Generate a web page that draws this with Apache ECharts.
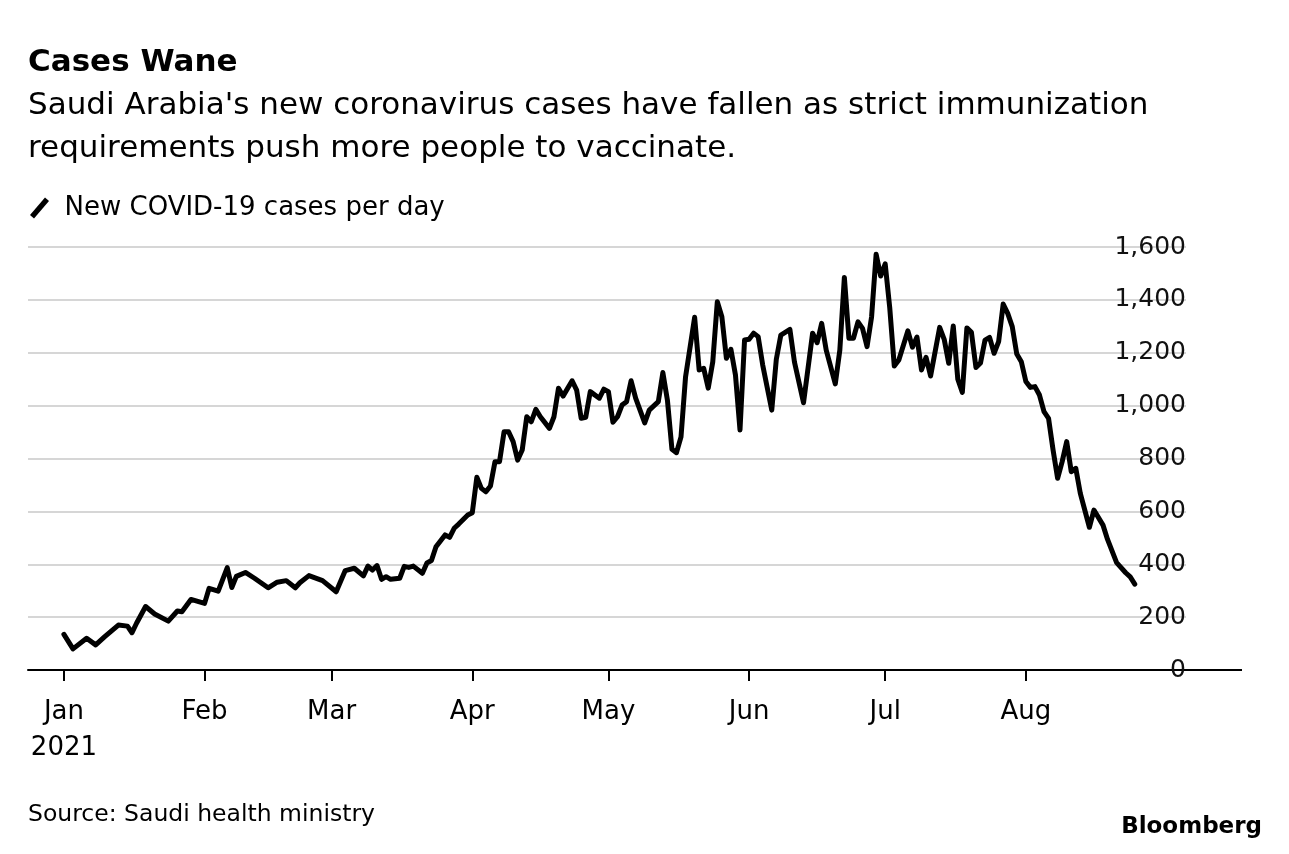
<!DOCTYPE html>
<html>
<head>
<meta charset="utf-8">
<script src="https://cdn.jsdelivr.net/npm/echarts@6/dist/echarts.min.js"></script>
<style>
html,body{margin:0;padding:0;background:#fff;}
#chart{width:1289px;height:854px;}
</style>
</head>
<body>
<div id="chart"></div>
<script>
// ---- data ----
const seriesName = 'New COVID-19 cases per day';
const dates = [
'2021-01-01','2021-01-03','2021-01-06','2021-01-08','2021-01-10','2021-01-13','2021-01-15','2021-01-16','2021-01-17','2021-01-19',
'2021-01-21','2021-01-24','2021-01-26','2021-01-27','2021-01-29','2021-02-01','2021-02-02','2021-02-04','2021-02-06','2021-02-07',
'2021-02-08','2021-02-10','2021-02-12','2021-02-15','2021-02-17','2021-02-19','2021-02-21','2021-02-22','2021-02-24','2021-02-27',
'2021-03-02','2021-03-04','2021-03-06','2021-03-08','2021-03-09','2021-03-10','2021-03-11','2021-03-12','2021-03-13','2021-03-14',
'2021-03-16','2021-03-17','2021-03-18','2021-03-19','2021-03-21','2021-03-22','2021-03-23','2021-03-24','2021-03-26','2021-03-27',
'2021-03-28','2021-03-29','2021-03-31','2021-04-01','2021-04-02','2021-04-03','2021-04-04','2021-04-05','2021-04-06','2021-04-07',
'2021-04-08','2021-04-09','2021-04-10','2021-04-11','2021-04-12','2021-04-13','2021-04-14','2021-04-15','2021-04-16','2021-04-18',
'2021-04-19','2021-04-20','2021-04-21','2021-04-23','2021-04-24','2021-04-25','2021-04-26','2021-04-27','2021-04-29','2021-04-30',
'2021-05-01','2021-05-02','2021-05-03','2021-05-04','2021-05-05','2021-05-06','2021-05-07','2021-05-09','2021-05-10','2021-05-12',
'2021-05-13','2021-05-14','2021-05-15','2021-05-16','2021-05-17','2021-05-18','2021-05-20','2021-05-21','2021-05-22','2021-05-23',
'2021-05-24','2021-05-25','2021-05-26','2021-05-27','2021-05-28','2021-05-29','2021-05-30','2021-05-31','2021-06-01','2021-06-02',
'2021-06-03','2021-06-04','2021-06-06','2021-06-07','2021-06-08','2021-06-10','2021-06-11','2021-06-13','2021-06-15','2021-06-16',
'2021-06-17','2021-06-18','2021-06-20','2021-06-21','2021-06-22','2021-06-23','2021-06-24','2021-06-25','2021-06-26','2021-06-27',
'2021-06-28','2021-06-29','2021-06-30','2021-07-01','2021-07-02','2021-07-03','2021-07-04','2021-07-06','2021-07-07','2021-07-08',
'2021-07-09','2021-07-10','2021-07-11','2021-07-13','2021-07-14','2021-07-15','2021-07-16','2021-07-17','2021-07-18','2021-07-19',
'2021-07-20','2021-07-21','2021-07-22','2021-07-23','2021-07-24','2021-07-25','2021-07-26','2021-07-27','2021-07-28','2021-07-29',
'2021-07-30','2021-07-31','2021-08-01','2021-08-02','2021-08-03','2021-08-04','2021-08-05','2021-08-06','2021-08-07','2021-08-08',
'2021-08-09','2021-08-10','2021-08-11','2021-08-12','2021-08-13','2021-08-15','2021-08-16','2021-08-18','2021-08-19','2021-08-21',
'2021-08-23','2021-08-24','2021-08-25'
];
const cases = [
135,80,120,95,126,170,166,141,177,240,
212,185,223,220,267,252,309,298,387,312,
354,369,347,311,332,338,311,330,357,338,
296,376,385,356,393,378,395,343,353,343,
347,392,388,393,366,405,414,466,511,502,
536,552,586,595,729,687,674,696,788,788,
901,901,864,794,832,958,939,986,958,914,
958,1066,1036,1094,1059,952,956,1053,1028,1062,
1053,937,958,1002,1015,1094,1028,935,983,1015,
1125,1021,835,822,882,1109,1334,1135,1141,1066,
1166,1393,1336,1179,1213,1116,908,1248,1251,1274,
1261,1154,983,1175,1267,1288,1165,1011,1274,1238,
1311,1210,1082,1210,1485,1255,1255,1317,1292,1223,
1336,1573,1490,1536,1370,1150,1173,1283,1221,1259,
1135,1183,1112,1296,1251,1160,1301,1100,1050,1294,
1277,1144,1161,1248,1258,1198,1242,1384,1349,1299,
1195,1166,1091,1069,1072,1040,977,952,832,725,
788,864,750,763,668,540,605,548,494,406,
368,352,325
];
const monthLabels = ['Jan','Feb','Mar','Apr','May','Jun','Jul','Aug'];
const yearLabel = '2021';
const yTicks = [0,200,400,600,800,1000,1200,1400,1600];
const titleText = 'Cases Wane';
const subtitleText = "Saudi Arabia's new coronavirus cases have fallen as strict immunization\nrequirements push more people to vaccinate.";
const sourceText = 'Source: Saudi health ministry';
const brandText = 'Bloomberg';

// ---- chart ----
const FONT = 'DejaVu Sans';
const toTs = s => { const p = s.split('-').map(Number); return Date.UTC(p[0], p[1] - 1, p[2]); };
const monthTicks = monthLabels.map((m, i) => Date.UTC(2021, i, 1));
const seriesData = dates.map((d, i) => [toTs(d), cases[i]]);
const X_MIN = Date.UTC(2020, 11, 24, 2);
const X_MAX = Date.UTC(2021, 8, 5, 7);

const chart = echarts.init(document.getElementById('chart'), null, {renderer: 'canvas'});
const GRID = {left: 28, right: 103, top: 247, bottom: 184};

chart.setOption({
  animation: false,
  backgroundColor: '#ffffff',
  textStyle: {fontFamily: FONT},
  title: [
    {text: titleText, left: 28, top: 47, padding: 0,
     textStyle: {fontFamily: FONT, fontWeight: 'bold', fontSize: 31, color: '#000'}},
    {text: subtitleText, left: 28, top: 84, padding: 0,
     textStyle: {fontFamily: FONT, fontWeight: 'normal', fontSize: 31, lineHeight: 43, color: '#000'}},
    {text: sourceText, left: 28, top: 803, padding: 0,
     textStyle: {fontFamily: FONT, fontWeight: 'normal', fontSize: 23.5, color: '#000'}},
    {text: brandText, right: 27, top: 816, padding: 0,
     textStyle: {fontFamily: FONT, fontWeight: 'bold', fontSize: 23, color: '#000'}}
  ],
  legend: {
    left: 30, top: 195, padding: 0,
    itemWidth: 40, itemHeight: 21,
    icon: 'path://M0,17.5 L15,0 L19,3.5 L4,21 Z',
    textStyle: {fontFamily: FONT, fontSize: 26, color: '#000'},
    data: [seriesName]
  },
  grid: GRID,
  xAxis: {
    type: 'value',
    min: X_MIN,
    max: X_MAX,
    axisLine: {show: true, onZero: false, lineStyle: {color: '#000', width: 2}},
    axisTick: {show: true, length: 11, lineStyle: {color: '#000', width: 2}, customValues: monthTicks},
    splitLine: {show: false},
    axisLabel: {
      customValues: monthTicks,
      margin: 24,
      fontFamily: FONT, fontSize: 26, lineHeight: 36, color: '#000',
      formatter: function (val) {
        const d = new Date(val);
        const m = monthLabels[d.getUTCMonth()];
        return d.getUTCMonth() === 0 ? m + '\n' + yearLabel : m;
      }
    }
  },
  yAxis: {
    type: 'value',
    position: 'right',
    min: yTicks[0], max: yTicks[yTicks.length - 1], interval: 200,
    axisLine: {show: false},
    axisTick: {show: false},
    splitLine: {show: true, lineStyle: {color: '#d6d6d6', width: 2}},
    axisLabel: {
      inside: true, margin: 0,
      fontFamily: FONT, fontSize: 25, color: '#111',
      formatter: v => v.toLocaleString('en-US')
    }
  },
  series: [{
    name: seriesName,
    type: 'line',
    data: seriesData,
    showSymbol: false,
    symbol: 'none',
    itemStyle: {color: '#000'},
    lineStyle: {color: '#000', width: 5, join: 'round', cap: 'round'},
    z: 5
  }]
});

// extend the zero baseline to the right past the labels (as in the reference)
const p0 = chart.convertToPixel({xAxisIndex: 0, yAxisIndex: 0}, [X_MAX, 0]);
const yb = Math.round(p0[1]);
chart.setOption({
  graphic: [{
    type: 'line', silent: true, z: 1,
    shape: {x1: p0[0] - 2, y1: yb, x2: 1242, y2: yb},
    style: {stroke: '#000', lineWidth: 2}
  }]
});
</script>
</body>
</html>
